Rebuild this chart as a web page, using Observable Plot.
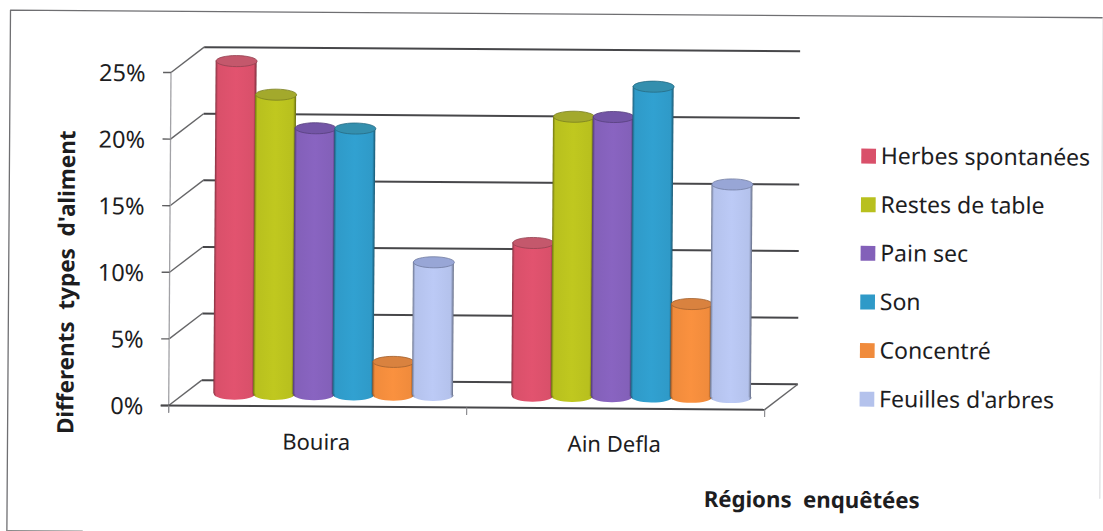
<!DOCTYPE html>
<html lang="fr">
<head>
<meta charset="utf-8">
<title>Types d'aliment par région</title>
<script src="https://cdn.jsdelivr.net/npm/d3@7"></script>
<script src="https://cdn.jsdelivr.net/npm/@observablehq/plot@0.6"></script>
<style>
  html, body { margin: 0; padding: 0; background: #fff; overflow: hidden; }
</style>
</head>
<body>
<div id="chart"></div>
<script>
const regions = ["Bouira", "Ain Defla"];
const foods = ["Herbes spontanées", "Restes de table", "Pain sec", "Son", "Concentré", "Feuilles d'arbres"];
const bouira = [25, 22.5, 20, 20, 2.5, 10];
const ainDefla = [11.5, 21, 21, 23.3, 7, 16];
const foodColors = ["#d9506a", "#b8c01e", "#8360b9", "#2f9ac8", "#f08b3c", "#b4c2ec"];
const topColors = ["#c4586c", "#a3a92c", "#7355a6", "#348fae", "#d9823f", "#98a6d6"];
const percentTicks = [0, 5, 10, 15, 20, 25];

// Chart geometry, in slot units along x and percent along y.
const FONT = "'Noto Sans', 'Open Sans', sans-serif";
const groupStart = [1.65, 9.15];
const radius = 0.516;
const floorLevel = 0.89;       // cylinders stand this far behind the front edge
const depthX = 0.83;           // oblique offset of the back wall
const depthY = 1.92;
const axisEnd = 15;
const frameLeft = -4.05, frameRight = 23.45, frameTop = 29.6, frameBottom = -9.47;

// Flattened ellipse used for the caps of the cylinders.
const capSymbol = {
  draw(context, size) {
    const rx = Math.sqrt(size / Math.PI), ry = rx * 0.27, k = 0.5523;
    context.moveTo(-rx, 0);
    context.bezierCurveTo(-rx, -k * ry, -k * rx, -ry, 0, -ry);
    context.bezierCurveTo(k * rx, -ry, rx, -k * ry, rx, 0);
    context.bezierCurveTo(rx, k * ry, k * rx, ry, 0, ry);
    context.bezierCurveTo(-k * rx, ry, -rx, k * ry, -rx, 0);
    context.closePath();
  }
};

const gradients = () => {
  const defs = d3.create("svg:defs");
  foodColors.forEach((color, i) => {
    const c = d3.color(color);
    const g = defs.append("linearGradient").attr("id", `cyl${i}`);
    [[0, c.darker(1.4)], [0.06, c], [0.5, c.brighter(0.12)], [0.93, c], [1, c.darker(1.6)]]
      .forEach(([offset, col]) => g.append("stop").attr("offset", offset).attr("stop-color", col.formatHex()));
  });
  return defs.node();
};

const cylinders = [bouira, ainDefla].flatMap((values, g) =>
  values.map((value, i) => ({region: regions[g], food: i, value, x: groupStart[g] + i}))
);

const cylinderMarks = cylinders.flatMap((d) => {
  const row = [d];
  return [
    Plot.dot(row, {x: "x", y: floorLevel, r: 20.5, symbol: capSymbol, fill: `url(#cyl${d.food})`, stroke: "none"}),
    Plot.rect(row, {
      x1: (r) => r.x - radius, x2: (r) => r.x + radius,
      y1: floorLevel, y2: (r) => floorLevel + r.value,
      fill: `url(#cyl${d.food})`
    }),
    Plot.dot(row, {
      x: "x", y: (r) => floorLevel + r.value, r: 20.5, symbol: capSymbol,
      fill: topColors[d.food], stroke: d3.color(topColors[d.food]).darker(0.8).formatHex(), strokeWidth: 0.8
    })
  ];
});

const gridColor = "#47474a";
const chart = Plot.plot({
  width: 1103,
  height: 531,
  margin: 0,
  x: {domain: [0, 15], range: [171, 767], axis: null},
  y: {domain: [0, 25], range: [403.8, 70.8], axis: null},
  style: {background: "#fff", transformOrigin: "0 0", transform: "rotate(0.4deg)", overflow: "visible"},
  marks: [
    gradients,
    // Page frame around the figure
    Plot.line([[frameLeft, frameBottom], [frameLeft, frameTop], [frameRight, frameTop]], {stroke: "#6f6f72", strokeWidth: 1.3}),
    Plot.line([[frameRight, frameTop], [frameRight, frameBottom + 3]], {stroke: "#e4e4e6", strokeWidth: 1.5}),
    Plot.line([[frameLeft, frameBottom], [frameLeft + 1.9, frameBottom]], {stroke: "#8a8a8a", strokeWidth: 1.2}),
    // Back wall gridlines and the oblique side lines
    Plot.link(percentTicks, {
      x1: depthX, x2: axisEnd + depthX,
      y1: (d) => d + depthY, y2: (d) => d + depthY,
      stroke: gridColor, strokeWidth: 2
    }),
    Plot.link(percentTicks, {
      x1: 0, x2: depthX, y1: (d) => d, y2: (d) => d + depthY,
      stroke: "#666668", strokeWidth: 1.4
    }),
    Plot.link([0], {
      x1: axisEnd, x2: axisEnd + depthX, y1: 0, y2: depthY,
      stroke: "#666668", strokeWidth: 1.4
    }),
    // Front axes and their ticks
    Plot.link([0], {x1: 0, x2: 0, y1: -0.55, y2: 25, stroke: "#a2a2a6", strokeWidth: 1.3}),
    Plot.link(percentTicks, {
      x1: -0.2, x2: 0, y1: (d) => d, y2: (d) => d,
      stroke: "#5f5f61", strokeWidth: 1.4
    }),
    Plot.link([0], {x1: -0.2, x2: axisEnd, y1: 0, y2: 0, stroke: gridColor, strokeWidth: 2}),
    Plot.link([0, 7.5, 15], {
      x1: (d) => d, x2: (d) => d, y1: -0.55, y2: 0,
      stroke: "#8e8e92", strokeWidth: 1.2
    }),
    ...cylinderMarks,
    // Axis text
    Plot.text(percentTicks, {
      x: -0.64, y: (d) => d, dy: 1.5, text: (d) => `${d}%`, textAnchor: "end",
      fontFamily: FONT, fontSize: 23.5, fill: "#1d1d1f"
    }),
    Plot.text(regions, {
      x: [3.72, 11.22], y: [-2.72, -2.72], text: (d) => d,
      fontFamily: FONT, fontSize: 22, fill: "#1d1d1f"
    }),
    Plot.text(["Differents  types  d'aliment"], {
      x: -2.58, y: 9.2, rotate: -90, text: (d) => d,
      fontFamily: FONT, fontSize: 22.5, fontWeight: 700, fill: "#1d1d1f"
    }),
    Plot.text(["Régions  enquêtées"], {
      x: 16.2, y: -6.8, text: (d) => d,
      fontFamily: FONT, fontSize: 22.2, fontWeight: 700, fill: "#1d1d1f"
    }),
    // Legend
    Plot.rect(foods, {
      x1: 17.4, x2: 17.77,
      y1: (d, i) => 19.05 - 3.65 * i - 0.56, y2: (d, i) => 19.05 - 3.65 * i + 0.56,
      fill: (d, i) => foodColors[i]
    }),
    Plot.text(foods, {
      x: 17.88, y: (d, i) => 19.05 - 3.65 * i, text: (d) => d, textAnchor: "start",
      fontFamily: FONT, fontSize: 23, fill: "#1d1d1f"
    })
  ]
});
document.getElementById("chart").append(chart);
</script>
</body>
</html>
